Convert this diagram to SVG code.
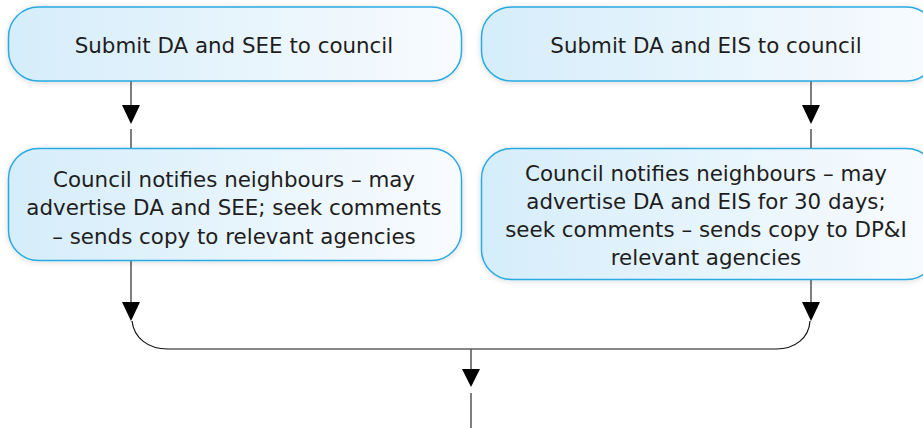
<svg xmlns="http://www.w3.org/2000/svg" width="923" height="428" viewBox="0 0 923 428">
<defs>
<linearGradient id="g" x1="0" y1="0" x2="1" y2="0">
<stop offset="0" stop-color="#d5edfa"/>
<stop offset="1" stop-color="#f8fbfe"/>
</linearGradient>
<filter id="sh" x="-5%" y="-10%" width="110%" height="130%">
<feGaussianBlur in="SourceAlpha" stdDeviation="3"/>
<feOffset dy="1"/>
<feComponentTransfer><feFuncA type="linear" slope="0.15"/></feComponentTransfer>
<feMerge><feMergeNode/><feMergeNode in="SourceGraphic"/></feMerge>
</filter>
<style>
.box{fill:url(#g);stroke:#29aae1;stroke-width:1.5;filter:url(#sh)}
.t{font-family:"DejaVu Sans","Liberation Sans",Arial,sans-serif;font-size:21.4px;fill:#1e1e1e;text-anchor:middle}
.ln{stroke:#555;stroke-width:1.5;fill:none}
.cv{stroke:#111;stroke-width:1.2;fill:none}
.tri{fill:#000}
</style>
</defs>
<rect width="923" height="428" fill="#fff"/>
<g id="connectors">
<line class="ln" x1="131" y1="81" x2="131" y2="105"/>
<path class="tri" d="M122,105 L140,105 L131,124 Z"/>
<line class="ln" x1="131" y1="129" x2="131" y2="148"/>
<line class="ln" x1="811" y1="81" x2="811" y2="105"/>
<path class="tri" d="M802,105 L820,105 L811,124 Z"/>
<line class="ln" x1="811" y1="129" x2="811" y2="148"/>
<line class="ln" x1="131" y1="261" x2="131" y2="302"/>
<path class="tri" d="M122,302 L140,302 L131,321 Z"/>
<line class="ln" x1="811" y1="280" x2="811" y2="302"/>
<path class="tri" d="M802,302 L820,302 L811,321 Z"/>
<path class="cv" d="M132,321 C134,338 148,349 168,349 L776,349 C795,349 809,338 810,321"/>
<line class="ln" x1="471" y1="349" x2="471" y2="369"/>
<path class="tri" d="M462,369 L480,369 L471,387 Z"/>
<line class="ln" x1="471" y1="393" x2="471" y2="428"/>
</g>
<g id="n1">
<rect class="box" x="8.5" y="7" width="453" height="74" rx="30"/>
<text class="t" x="234" y="53">Submit DA and SEE to council</text>
</g>
<g id="n2">
<rect class="box" x="481.5" y="7" width="455" height="74" rx="30"/>
<text class="t" x="706" y="53">Submit DA and EIS to council</text>
</g>
<g id="n3">
<rect class="box" x="8.5" y="148.5" width="453" height="112" rx="30"/>
<text class="t" x="234" y="187">Council notifies neighbours – may</text>
<text class="t" x="234" y="215">advertise DA and SEE; seek comments</text>
<text class="t" x="234" y="243.5">– sends copy to relevant agencies</text>
</g>
<g id="n4">
<rect class="box" x="481.5" y="148.5" width="455" height="131" rx="30"/>
<text class="t" x="706" y="181">Council notifies neighbours – may</text>
<text class="t" x="706" y="209">advertise DA and EIS for 30 days;</text>
<text class="t" x="706" y="237">seek comments – sends copy to DP&amp;I</text>
<text class="t" x="706" y="265">relevant agencies</text>
</g>
</svg>
